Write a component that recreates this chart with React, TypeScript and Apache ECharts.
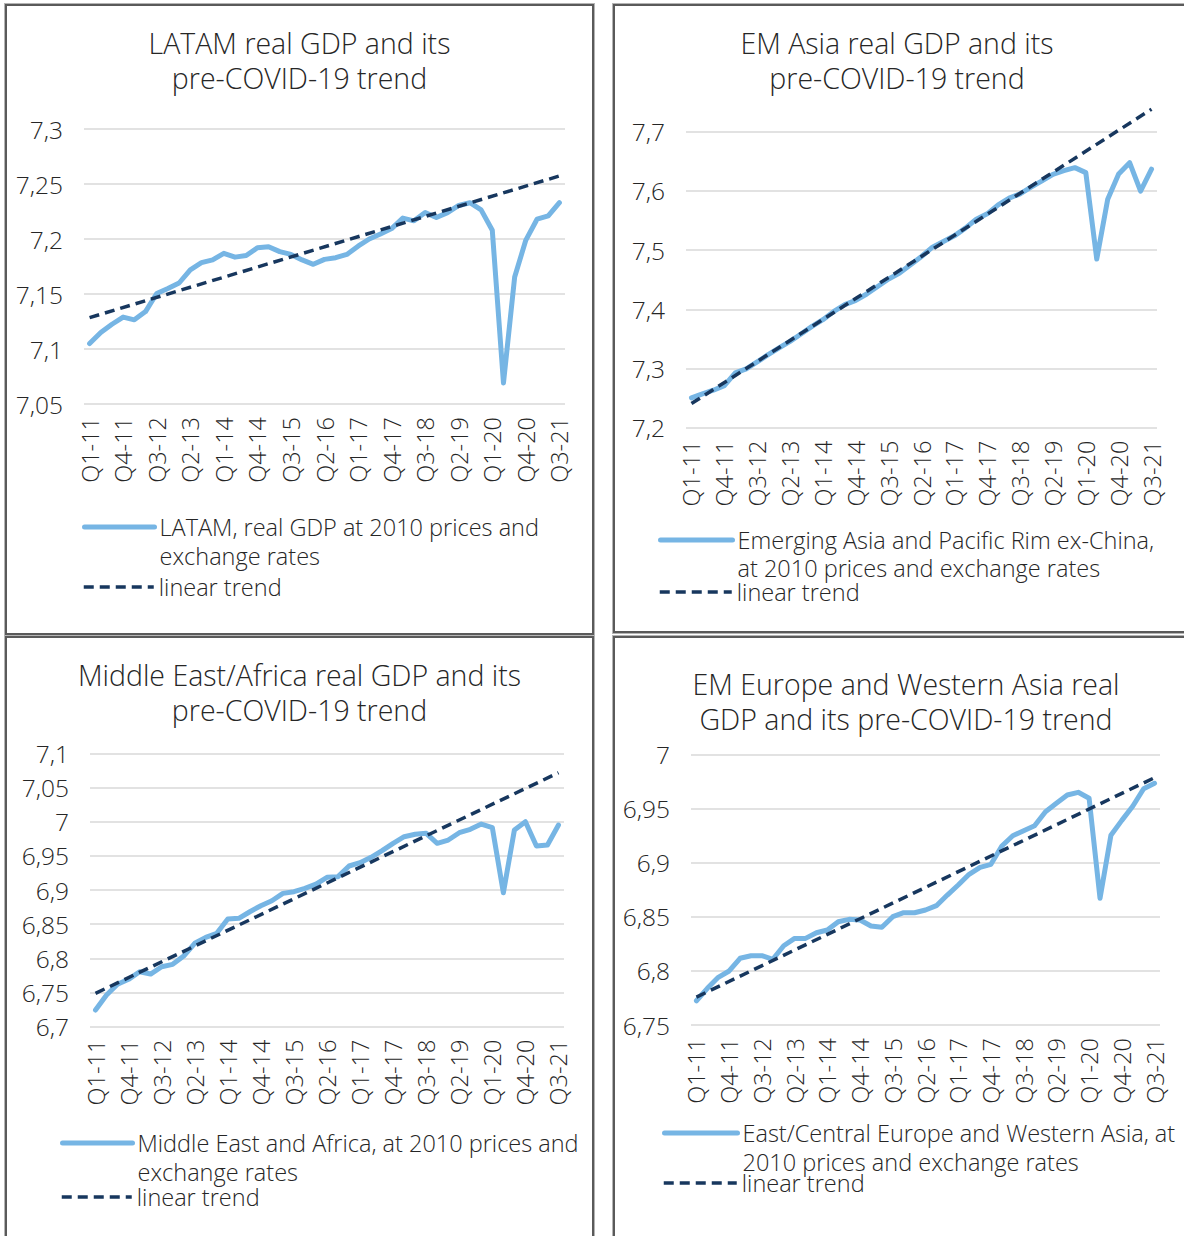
import React, { useEffect, useRef } from "react";
import * as echarts from "echarts";

const quarters: string[] = [
  "Q1-11", "Q2-11", "Q3-11", "Q4-11",
  "Q1-12", "Q2-12", "Q3-12", "Q4-12",
  "Q1-13", "Q2-13", "Q3-13", "Q4-13",
  "Q1-14", "Q2-14", "Q3-14", "Q4-14",
  "Q1-15", "Q2-15", "Q3-15", "Q4-15",
  "Q1-16", "Q2-16", "Q3-16", "Q4-16",
  "Q1-17", "Q2-17", "Q3-17", "Q4-17",
  "Q1-18", "Q2-18", "Q3-18", "Q4-18",
  "Q1-19", "Q2-19", "Q3-19", "Q4-19",
  "Q1-20", "Q2-20", "Q3-20", "Q4-20",
  "Q1-21", "Q2-21", "Q3-21",
];

const latamGdp: number[] = [
  7.105, 7.115, 7.1225, 7.129, 7.1265, 7.134, 7.1505, 7.155, 7.16, 7.172,
  7.1785, 7.181, 7.187, 7.1835, 7.185, 7.192, 7.193, 7.1885, 7.186, 7.181,
  7.177, 7.1815, 7.183, 7.186, 7.1935, 7.2, 7.2045, 7.2095, 7.219, 7.2165,
  7.224, 7.2195, 7.224, 7.2305, 7.233, 7.2265, 7.208, 7.069, 7.1655, 7.199,
  7.218, 7.221, 7.233,
];
const latamTrend: number[] = [7.1285, 7.2573];

const emAsiaGdp: number[] = [
  7.2504, 7.2572, 7.2633, 7.2711, 7.2926, 7.2993, 7.3111, 7.3234, 7.3347, 7.3459,
  7.3583, 7.3712, 7.3824, 7.3965, 7.4078, 7.415, 7.4258, 7.4386, 7.4511, 7.4612,
  7.4752, 7.4892, 7.505, 7.5145, 7.5241, 7.5371, 7.5522, 7.5612, 7.5764, 7.5877,
  7.595, 7.6062, 7.6169, 7.6281, 7.6342, 7.6393, 7.6309, 7.4848, 7.586, 7.6287,
  7.6477, 7.5995, 7.6366,
];
const emAsiaTrend: number[] = [7.2408, 7.738];

const meaGdp: number[] = [
  6.7243, 6.7463, 6.762, 6.7693, 6.7804, 6.777, 6.7877, 6.7912, 6.8034, 6.822,
  6.8307, 6.8366, 6.8575, 6.8585, 6.8682, 6.877, 6.8843, 6.8951, 6.8975, 6.9024,
  6.9087, 6.9185, 6.9195, 6.9351, 6.9399, 6.9478, 6.9575, 6.9683, 6.978, 6.9815,
  6.9829, 6.9683, 6.9731, 6.9838, 6.9888, 6.9965, 6.9911, 6.896, 6.9878, 6.9999,
  6.9643, 6.9658, 6.9951,
];
const meaTrend: number[] = [6.7488, 7.0716];

const emEuropeGdp: number[] = [
  6.7724, 6.7839, 6.794, 6.7999, 6.8116, 6.814, 6.814, 6.8107, 6.8232, 6.83,
  6.83, 6.8352, 6.8377, 6.8454, 6.8476, 6.847, 6.8414, 6.8402, 6.85, 6.8537,
  6.8537, 6.8562, 6.8602, 6.87, 6.8793, 6.8892, 6.8956, 6.8984, 6.9153, 6.9248,
  6.9294, 6.934, 6.947, 6.9547, 6.9624, 6.9649, 6.9594, 6.867, 6.9252, 6.939,
  6.952, 6.9682, 6.9732,
];
const emEuropeTrend: number[] = [6.7758, 6.9784];

const FONT = "'Open Sans', 'Liberation Sans', Arial, sans-serif";
const TEXT = "#262626";
const LIGHT_BLUE = "#76B5E4";
const NAVY = "#17375E";

type PanelCfg = {
  frame: { left: number; top: number; width: number; height: number };
  title: string;
  titleX: number;
  titleTop: number;
  grid: { left: number; top: number; width: number; height: number };
  yMin: number;
  yMax: number;
  yStep: number;
  gdp: number[];
  trend: number[];
  gdpName: string;
  trendName: string;
  legendLeft: number;
  legend1Top: number;
  legend2Top: number;
  legendLH: number;
  iconWidth: number;
};

const panels: PanelCfg[] = [
  {
    frame: { left: 5, top: 4, width: 589, height: 631 },
    title: "LATAM real GDP and its\npre-COVID-19 trend",
    titleX: 292.5,
    titleTop: 19,
    grid: { left: 77, top: 123, width: 481, height: 275 },
    yMin: 7.05,
    yMax: 7.3,
    yStep: 0.05,
    gdp: latamGdp,
    trend: latamTrend,
    gdpName: "LATAM, real GDP at 2010 prices and\nexchange rates",
    trendName: "linear trend",
    legendLeft: 75,
    legend1Top: 477.5,
    legend2Top: 566.5,
    legendLH: 29,
    iconWidth: 70,
  },
  {
    frame: { left: 613, top: 4, width: 590, height: 629 },
    title: "EM Asia real GDP and its\npre-COVID-19 trend",
    titleX: 282,
    titleTop: 19,
    grid: { left: 71, top: 125.7, width: 471, height: 296 },
    yMin: 7.2,
    yMax: 7.7,
    yStep: 0.1,
    gdp: emAsiaGdp,
    trend: emAsiaTrend,
    gdpName: "Emerging Asia and Pacific Rim ex-China,\nat 2010 prices and exchange rates",
    trendName: "linear trend",
    legendLeft: 43,
    legend1Top: 492,
    legend2Top: 572,
    legendLH: 28,
    iconWidth: 72,
  },
  {
    frame: { left: 5, top: 636, width: 589, height: 620 },
    title: "Middle East/Africa real GDP and its\npre-COVID-19 trend",
    titleX: 292.5,
    titleTop: 19,
    grid: { left: 83, top: 115.3, width: 474, height: 273.4 },
    yMin: 6.7,
    yMax: 7.1,
    yStep: 0.05,
    gdp: meaGdp,
    trend: meaTrend,
    gdpName: "Middle East and Africa, at 2010 prices and\nexchange rates",
    trendName: "linear trend",
    legendLeft: 53,
    legend1Top: 461.5,
    legend2Top: 544.5,
    legendLH: 29,
    iconWidth: 70,
  },
  {
    frame: { left: 613, top: 636, width: 590, height: 620 },
    title: "EM Europe and Western Asia real\nGDP and its pre-COVID-19 trend",
    titleX: 291,
    titleTop: 28.5,
    grid: { left: 76, top: 116.3, width: 469, height: 270.7 },
    yMin: 6.75,
    yMax: 7.0,
    yStep: 0.05,
    gdp: emEuropeGdp,
    trend: emEuropeTrend,
    gdpName: "East/Central Europe and Western Asia, at\n2010 prices and exchange rates",
    trendName: "linear trend",
    legendLeft: 47,
    legend1Top: 451.5,
    legend2Top: 530.5,
    legendLH: 29,
    iconWidth: 73,
  },
];

function buildOption(p: PanelCfg): echarts.EChartsOption {
  const trendData: (number | null)[] = quarters.map((_, i) =>
    i === 0 ? p.trend[0] : i === quarters.length - 1 ? p.trend[1] : null
  );
  const fmt = (v: number) => String(Number(v.toFixed(2))).replace(".", ",");
  const legendBase = {
    orient: "vertical" as const,
    left: p.legendLeft,
    padding: 0,
    itemWidth: p.iconWidth,
    itemHeight: 14,
    selectedMode: false,
    itemStyle: { opacity: 0 },
  };
  const legendText = {
    fontFamily: FONT,
    fontSize: 23.5,
    fontWeight: 300,
    color: TEXT,
    lineHeight: p.legendLH,
  };
  return {
    animation: false,
    backgroundColor: "#ffffff",
    title: {
      text: p.title,
      left: p.titleX,
      top: p.titleTop,
      padding: 0,
      textAlign: "center",
      textVerticalAlign: "top",
      textStyle: {
        fontFamily: FONT,
        fontSize: 28.5,
        fontWeight: 300,
        lineHeight: 35,
        color: TEXT,
      },
    },
    legend: [
      {
        ...legendBase,
        top: p.legend1Top,
        data: [p.gdpName],
        formatter: (name: string) => "\n" + name,
        lineStyle: { width: 5, cap: "round" },
        textStyle: legendText,
      },
      {
        ...legendBase,
        top: p.legend2Top,
        data: [p.trendName],
        lineStyle: { width: 3.5 },
        textStyle: legendText,
      },
    ],
    grid: { ...p.grid, containLabel: false },
    xAxis: {
      type: "category",
      data: quarters,
      boundaryGap: true,
      axisLine: { show: false },
      axisTick: { show: false },
      axisLabel: {
        interval: 2,
        rotate: 90,
        margin: 13,
        fontFamily: FONT,
        fontSize: 23.5,
        fontWeight: 300,
        color: TEXT,
      },
    },
    yAxis: {
      type: "value",
      min: p.yMin,
      max: p.yMax,
      interval: p.yStep,
      axisLine: { show: false },
      axisTick: { show: false },
      axisLabel: {
        formatter: (v: number) => fmt(v),
        margin: 21,
        fontFamily: FONT,
        fontSize: 24.5,
        fontWeight: 300,
        color: TEXT,
      },
      splitLine: { lineStyle: { color: "#d9d9d9", width: 1.5 } },
    },
    series: [
      {
        name: p.gdpName,
        type: "line",
        data: p.gdp,
        symbol: "none",
        lineStyle: { color: LIGHT_BLUE, width: 5, join: "round", cap: "round" },
        itemStyle: { color: LIGHT_BLUE },
        z: 2,
      },
      {
        name: p.trendName,
        type: "line",
        data: trendData,
        connectNulls: true,
        symbol: "none",
        clip: false,
        lineStyle: { color: NAVY, width: 3.5, type: [10, 6] },
        itemStyle: { color: NAVY },
        z: 3,
      },
    ],
  };
}

function Panel({ cfg }: { cfg: PanelCfg }) {
  const ref = useRef<HTMLDivElement>(null);
  useEffect(() => {
    if (!ref.current) return;
    const chart = echarts.init(ref.current, undefined, { renderer: "svg" });
    chart.setOption(buildOption(cfg));
    return () => chart.dispose();
  }, [cfg]);
  const b = 2;
  return (
    <div
      style={{
        position: "absolute",
        left: cfg.frame.left,
        top: cfg.frame.top,
        width: cfg.frame.width,
        height: cfg.frame.height,
        boxSizing: "border-box",
        border: `${b}px solid #5a5a5a`,
        boxShadow: "0 0 0 1px #b4b4b4",
        background: "#fff",
      }}
    >
      <div
        ref={ref}
        style={{ width: cfg.frame.width - 2 * b, height: cfg.frame.height - 2 * b }}
      />
    </div>
  );
}

export default function App() {
  return (
    <div
      style={{
        position: "absolute",
        left: 0,
        top: 0,
        width: 1184,
        height: 1236,
        overflow: "hidden",
        background: "#ffffff",
      }}
    >
      {panels.map((p, i) => (
        <Panel key={i} cfg={p} />
      ))}
    </div>
  );
}
